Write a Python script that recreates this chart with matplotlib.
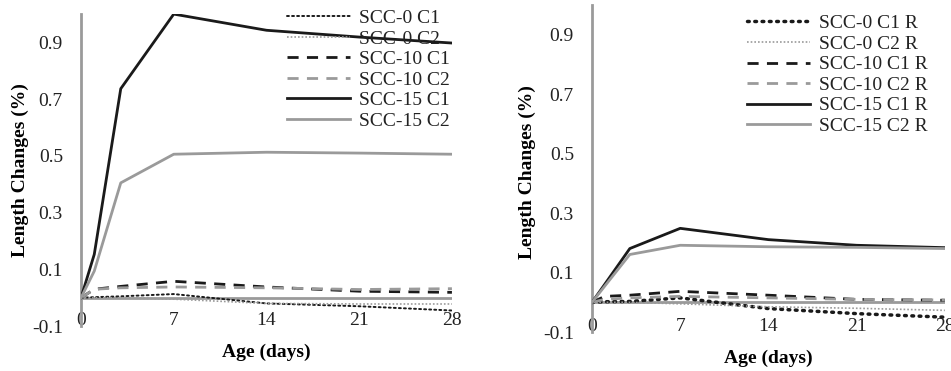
import matplotlib
matplotlib.use("Agg")
import matplotlib.pyplot as plt

plt.rcParams['font.family'] = ['Liberation Serif', 'DejaVu Serif']

days = [0, 1, 3, 7, 14, 21, 28]
xticks = [0, 7, 14, 21, 28]
yticks = [-0.1, 0.1, 0.3, 0.5, 0.7, 0.9]

# left panel
scc0_c1 = [0, 0.002, 0.005, 0.013, -0.02, -0.03, -0.045]
scc0_c2 = [0, 0.0, 0.0, -0.005, -0.02, -0.022, -0.022]
scc10_c1 = [0, 0.03, 0.04, 0.058, 0.038, 0.023, 0.019]
scc10_c2 = [0, 0.03, 0.035, 0.038, 0.035, 0.029, 0.032]
scc15_c1 = [0, 0.153, 0.737, 1.0, 0.943, 0.919, 0.898]
scc15_c2 = [0, 0.094, 0.405, 0.506, 0.513, 0.51, 0.506]

# right panel (R)
scc0_c1_r = [0, 0.002, 0.003, 0.015, -0.021, -0.038, -0.05]
scc0_c2_r = [0, 0.0, 0.0, -0.005, -0.015, -0.02, -0.027]
scc10_c1_r = [0, 0.02, 0.024, 0.037, 0.024, 0.01, 0.007]
scc10_c2_r = [0, 0.01, 0.015, 0.02, 0.015, 0.01, 0.008]
scc15_c1_r = [0, 0.06, 0.181, 0.249, 0.211, 0.192, 0.184]
scc15_c2_r = [0, 0.054, 0.161, 0.192, 0.187, 0.185, 0.181]

left_labels = ['SCC-0 C1', 'SCC-0 C2', 'SCC-10 C1', 'SCC-10 C2', 'SCC-15 C1', 'SCC-15 C2']
right_labels = [s + ' R' for s in left_labels]

BLACK = '#1a1a1a'
GRAY = '#9a9a9a'
FS = 14


def draw(ax, series, labels, dot_style, dot_lw):
    styles = [(BLACK, dot_style, dot_lw), (GRAY, (0, (1, 1.2)), 1.2),
              (BLACK, (0, (4, 3)), 2.0), (GRAY, (0, (4, 3)), 2.0),
              (BLACK, '-', 2.0), (GRAY, '-', 2.0)]
    ax.axhline(0, color=GRAY, lw=2, zorder=1)
    for vals, lab, (c, ls, lw) in zip(series, labels, styles):
        ax.plot(days, vals, color=c, ls=ls, lw=lw, label=lab,
                dash_capstyle='round' if ls == dot_style else 'butt', zorder=3)
    ax.set_xlim(0, 28)
    ax.set_ylim(-0.1, 1.0)
    ax.set_xticks(xticks)
    ax.set_yticks(yticks)
    ax.set_yticklabels([f'{v:.1f}' for v in yticks])
    for s in ['top', 'right', 'bottom']:
        ax.spines[s].set_visible(False)
    ax.spines['left'].set_color(GRAY)
    ax.spines['left'].set_linewidth(2)
    ax.tick_params(axis='both', length=0, labelsize=FS, colors='#222222')
    ax.tick_params(axis='x', pad=-10)
    ax.tick_params(axis='y', pad=13)
    ax.set_ylabel('Length Changes (%)', fontsize=FS, fontweight='bold', va='center')
    ax.set_xlabel('Age (days)', fontsize=FS, fontweight='bold', va='center')


fig = plt.figure(figsize=(9.51, 3.71), dpi=100)
ax1 = fig.add_axes([0.0852, 0.121, 0.390, 0.841])
ax2 = fig.add_axes([0.6225, 0.105, 0.371, 0.881])

draw(ax1, [scc0_c1, scc0_c2, scc10_c1, scc10_c2, scc15_c1, scc15_c2],
     left_labels, (0, (1, 1.6)), 1.4)
draw(ax2, [scc0_c1_r, scc0_c2_r, scc10_c1_r, scc10_c2_r, scc15_c1_r, scc15_c2_r],
     right_labels, (0, (0.5, 1.6)), 2.5)

ax1.yaxis.set_label_coords(-0.164, 0.5)
ax1.xaxis.set_label_coords(0.5, -0.083)
ax2.yaxis.set_label_coords(-0.184, 0.49)
ax2.xaxis.set_label_coords(0.5, -0.08)

for ax, anchor in [(ax1, (0.555, 1.015)), (ax2, (0.439, 0.971))]:
    leg = ax.legend(loc='upper left', bbox_to_anchor=anchor, frameon=False,
                    fontsize=FS, handlelength=3.25, handletextpad=0.45,
                    labelspacing=0.15, borderaxespad=0, borderpad=0)
    for t in leg.get_texts():
        t.set_color('#222222')

fig.savefig('out.png', dpi=100)
